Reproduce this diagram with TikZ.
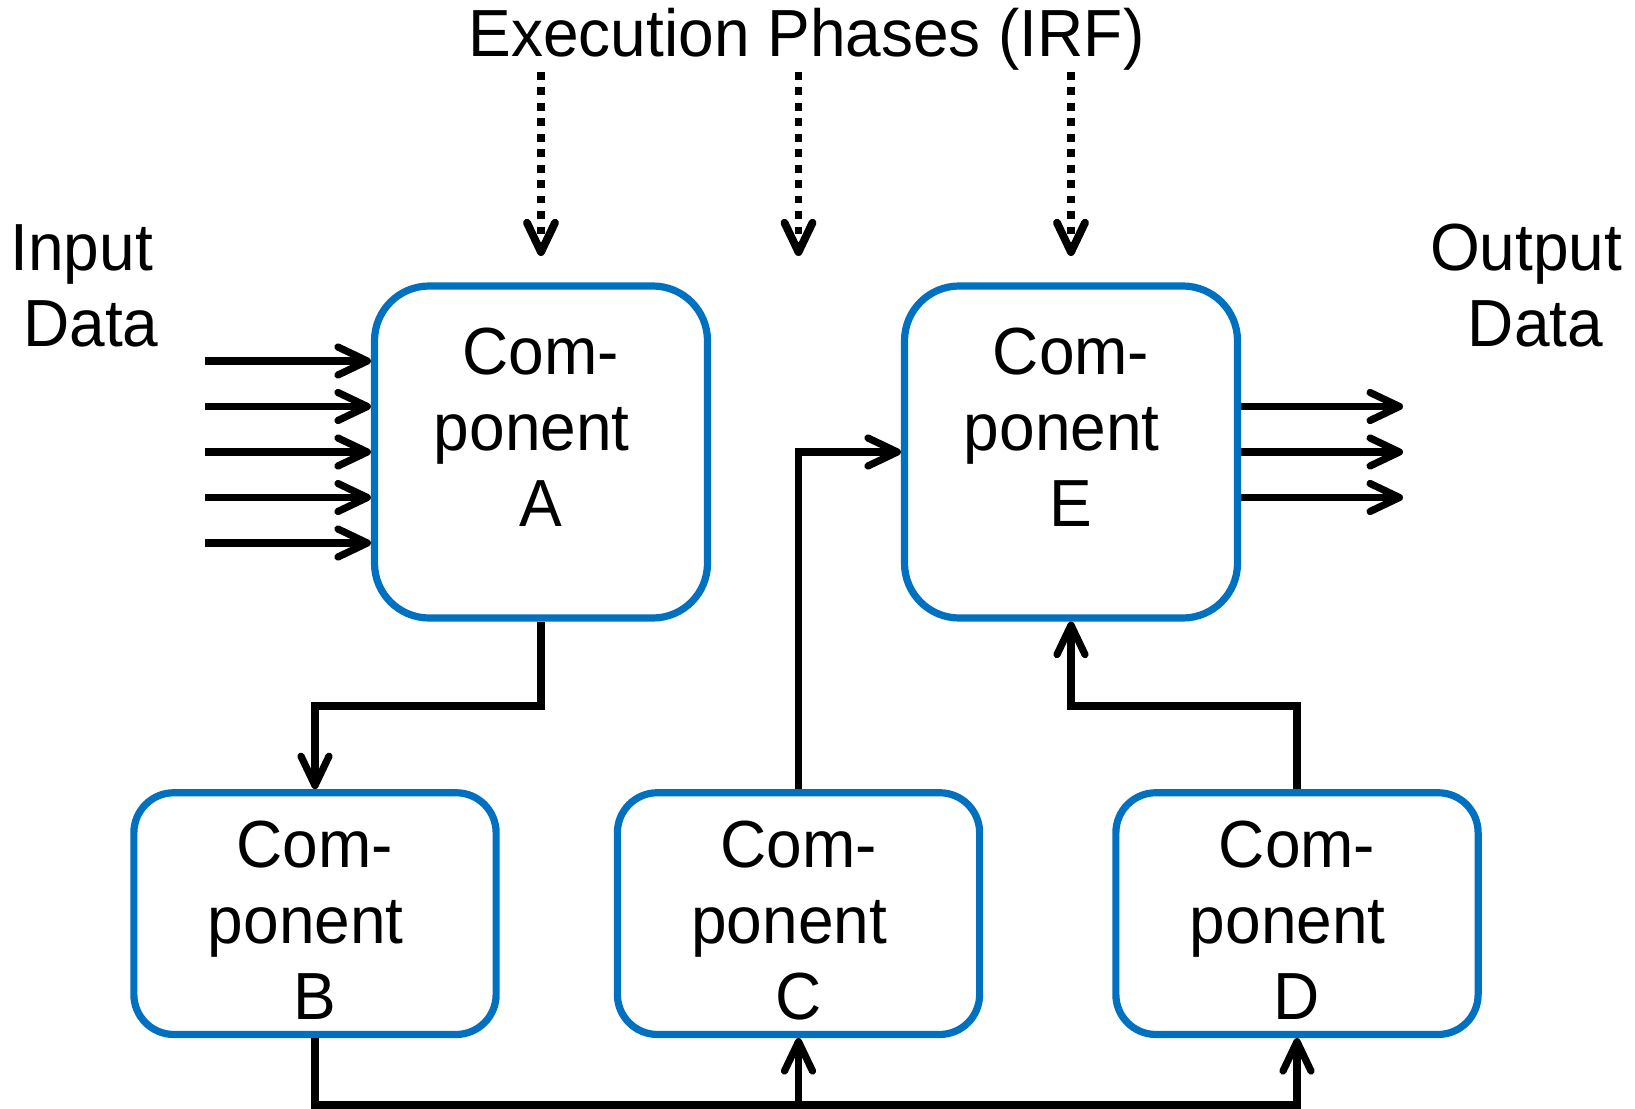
\documentclass[tikz,border=0pt]{standalone}
\usepackage{fontspec}
\setmainfont[FakeStretch=0.96]{Liberation Sans}
\usetikzlibrary{arrows.meta}
\definecolor{boxblue}{RGB}{0,112,192}

\begin{document}
\begin{tikzpicture}[x=0.75pt,y=-0.75pt,
  comp/.style={draw=boxblue, line width=5.4pt, fill=white, inner sep=0pt},
  bigcomp/.style={comp, minimum width=249.75pt, minimum height=249pt, rounded corners=41pt},
  smallcomp/.style={comp, minimum width=271.7pt, minimum height=181.3pt, rounded corners=30pt},
  lbl/.style={font=\fontsize{50}{57}\selectfont, align=center, anchor=north, inner sep=0pt},
  flow/.style={line width=5.4pt, -{Straight Barb[length=22pt,width=21pt,line cap=round,line join=round]}},
  phase/.style={flow, line width=5.9pt, dash pattern=on 5.8pt off 5.8pt},
]
\path[use as bounding box] (0,0) rectangle (1635,1109);

% components
\node[bigcomp] (A) at (541,452) {};
\node[bigcomp] (E) at (1071,452) {};
\node[smallcomp] (B) at (315,913.6) {};
\node[smallcomp] (C) at (798.5,913.6) {};
\node[smallcomp] (D) at (1297,913.6) {};

% component labels
\node[lbl] (Alab) at (541,327.5) {Com-\\ponent\kern.278em\\A};
\node[lbl] (Elab) at (1071,327.5) {Com-\\ponent\kern.278em\\E};
\node[lbl] (Blab) at (315,820.6) {Com-\\ponent\kern.278em\\B};
\node[lbl] (Clab) at (798.5,820.6) {Com-\\ponent\kern.278em\\C};
\node[lbl] (Dlab) at (1297,820.6) {Com-\\ponent\kern.278em\\D};

% side and top captions
\node[lbl] (inp) at (91,224.3) {Input\kern.278em\\Data};
\node[lbl] (outp) at (1535.5,223.5) {Output\kern.278em\\Data};
\node[lbl] (ttl) at (806.5,7.5) {Execution Phases (IRF)};

% helper levels
\coordinate (lvl) at (0,706);
\coordinate (bus) at (0,1105);

% input data streams into A
\foreach \k [count=\i] in {-2,-1,0,1,2} {
  \coordinate (in\i) at (205,452+45.5*\k);
  \draw[flow] (in\i) -- (in\i -| A.west);
}

% output data streams out of E
\foreach \k [count=\i] in {-1,0,1} {
  \coordinate (out\i) at (1403,452+45.5*\k);
  \draw[flow] (out\i -| E.east) -- (out\i);
}

% execution phase triggers
\coordinate (p1s) at (541,72);   \coordinate (p1e) at (541,256);
\coordinate (p2s) at (798.5,72); \coordinate (p2e) at (798.5,256);
\coordinate (p3s) at (1071,72);  \coordinate (p3e) at (1071,256);
\draw[phase] (p1s) -- (p1e);
\draw[phase] (p2s) -- (p2e);
\draw[phase] (p3s) -- (p3e);

% data flow between components
\draw[flow] (A.south) -- (A.south |- lvl) -- (B.north |- lvl) -- (B.north);
\draw[flow] (C.north) |- (E.west);
\draw[flow] (D.north) -- (D.north |- lvl) -- (E.south |- lvl) -- (E.south);
\draw[flow] (B.south) -- (B.south |- bus) -- (D.south |- bus) -- (D.south);
\draw[flow] (C.south |- bus) -- (C.south);
\end{tikzpicture}
\end{document}
